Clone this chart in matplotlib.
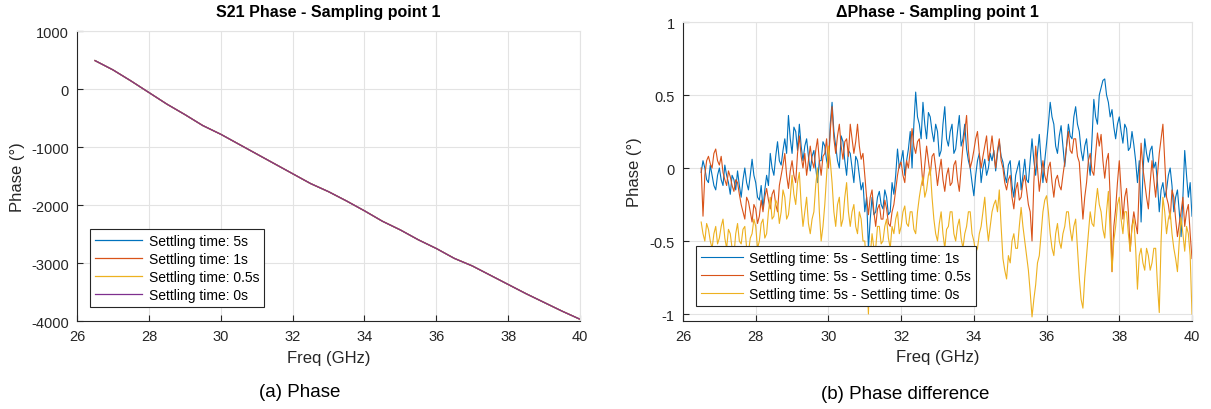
import numpy as np
import matplotlib
matplotlib.use("Agg")
import matplotlib.pyplot as plt

plt.rcParams["font.family"] = ["Liberation Sans", "DejaVu Sans"]
plt.rcParams["axes.unicode_minus"] = False

# left panel: unwrapped S21 phase (all four settling times overlap)
phase_freq = [26.5, 27.0, 27.5, 28.0, 28.5, 29.0, 29.5, 30.0, 30.5, 31.0,
              31.5, 32.0, 32.5, 33.0, 33.5, 34.0, 34.5, 35.0, 35.5, 36.0,
              36.5, 37.0, 37.5, 38.0, 38.5, 39.0, 39.5, 40.0]
phase_deg = [490, 330, 140, -60, -260, -440, -630, -780, -950, -1120,
             -1290, -1460, -1630, -1770, -1930, -2100, -2280, -2430, -2600, -2750,
             -2920, -3050, -3210, -3370, -3530, -3680, -3830, -3970]
phase_labels = ["Settling time: 5s", "Settling time: 1s",
                "Settling time: 0.5s", "Settling time: 0s"]

# right panel: phase difference, one value every 0.05 GHz from 26.5 to 40
diff_freq = np.arange(530, 801) / 20
diff_5s_1s = [
    -0.03, 0.05, 0.0, -0.08, -0.1, 0.02, -0.05, -0.12, -0.15, -0.05, 0.0, -0.08, -0.12, 0.02, -0.05, -0.1, -0.18, -0.05, -0.08, -0.15,
    -0.02, -0.12, -0.2, -0.08, 0.0, -0.1, -0.15, -0.05, 0.06, -0.05, -0.1, -0.2, -0.22, -0.12, -0.28, -0.15, -0.05, -0.12, 0.1, 0.0,
    -0.05, 0.08, 0.18, 0.05, 0.02, 0.12, 0.2, 0.1, 0.36, 0.2, 0.1, 0.28, 0.25, 0.12, 0.3, 0.15, 0.05, 0.15, 0.2, 0.08,
    -0.02, 0.08, 0.12, 0.0, -0.1, 0.05, 0.05, 0.18, 0.15, 0.05, 0.0, 0.3, 0.45, 0.25, 0.15, 0.05, 0.0, 0.22, 0.18, 0.05,
    -0.05, 0.12, 0.1, 0.0, -0.1, 0.08, 0.05, -0.05, -0.15, -0.1, -0.3, -0.2, -0.55, -0.35, -0.2, -0.32, -0.3, -0.2, -0.16, -0.25,
    -0.28, -0.15, -0.2, -0.32, -0.3, -0.1, -0.18, -0.05, 0.13, 0.0, 0.05, 0.12, -0.05, 0.05, 0.13, 0.25, 0.0, 0.3, 0.52, 0.35,
    0.3, 0.2, 0.45, 0.3, 0.2, 0.38, 0.35, 0.25, 0.18, 0.3, 0.25, 0.08, 0.12, 0.3, 0.42, 0.2, 0.15, 0.25, 0.3, 0.1,
    0.13, 0.25, 0.36, 0.15, 0.2, 0.3, 0.13, 0.05, 0.0, -0.1, -0.19, -0.05, 0.05, 0.1, -0.1, 0.0, 0.06, -0.05, 0.0, 0.1,
    0.05, 0.12, -0.02, 0.1, 0.18, 0.08, 0.04, -0.05, -0.1, 0.02, 0.05, -0.12, -0.2, -0.05, 0.0, 0.05, -0.15, -0.05, 0.06, -0.08,
    -0.1, 0.05, 0.2, 0.05, -0.05, 0.1, 0.23, 0.05, -0.1, 0.05, 0.17, 0.3, 0.45, 0.35, 0.3, 0.15, 0.1, 0.22, 0.29, 0.15,
    0.01, 0.15, 0.3, 0.22, 0.2, 0.35, 0.42, 0.3, 0.25, 0.12, 0.05, 0.15, 0.2, 0.05, -0.05, 0.2, 0.47, 0.35, 0.3, 0.5,
    0.55, 0.6, 0.61, 0.5, 0.45, 0.35, 0.4, 0.28, 0.2, 0.3, 0.35, 0.25, 0.17, 0.3, 0.27, 0.12, 0.14, 0.25, 0.16, 0.05,
    -0.1, 0.05, -0.37, -0.05, 0.2, 0.1, 0.04, 0.12, 0.15, 0.0, 0.04, -0.1, -0.3, -0.15, -0.1, -0.2, -0.15, -0.05, 0.0, -0.12,
    -0.3, -0.2, -0.15, -0.3, -0.47, -0.2, 0.12, -0.05, -0.2, -0.1, -0.33]
diff_5s_05s = [
    0.0, -0.33, -0.05, 0.05, 0.08, 0.03, 0.0, 0.1, 0.13, 0.05, 0.02, 0.08, -0.03, -0.08, -0.12, -0.02, -0.06, -0.12, -0.16, -0.08,
    -0.1, -0.18, -0.25, -0.3, -0.35, -0.2, -0.23, -0.3, -0.37, -0.25, -0.28, -0.38, -0.33, -0.22, -0.3, -0.2, -0.14, -0.22, -0.28, -0.18,
    -0.15, -0.25, -0.3, -0.12, -0.05, 0.02, 0.1, -0.05, -0.14, -0.02, 0.05, -0.05, -0.1, 0.1, 0.22, 0.08, 0.0, 0.1, -0.05, 0.05,
    0.15, 0.05, 0.0, 0.12, 0.2, 0.05, -0.05, 0.08, 0.1, 0.2, 0.0, 0.25, 0.42, 0.2, 0.1, 0.22, 0.3, 0.15, 0.06, 0.18,
    0.2, 0.08, 0.3, 0.2, 0.1, 0.18, 0.3, 0.15, 0.06, 0.1, -0.05, -0.2, -0.32, -0.2, -0.15, -0.3, -0.4, -0.28, -0.25, -0.35,
    -0.35, -0.22, -0.28, -0.38, -0.4, -0.3, -0.25, -0.15, -0.05, 0.02, 0.04, -0.05, -0.1, 0.05, 0.0, 0.12, 0.27, 0.15, 0.1, 0.18,
    0.2, 0.05, -0.12, 0.02, 0.15, 0.05, -0.05, 0.08, 0.1, 0.0, -0.12, -0.02, 0.06, -0.08, -0.16, -0.05, 0.0, -0.12, -0.1, 0.02,
    0.05, -0.08, -0.16, 0.0, 0.15, 0.25, 0.36, 0.12, 0.0, 0.05, 0.12, 0.2, 0.25, 0.1, 0.0, 0.08, 0.15, 0.22, 0.05, 0.12,
    0.22, 0.1, 0.0, 0.12, 0.2, 0.05, 0.0, -0.1, -0.15, -0.08, -0.05, -0.2, -0.28, -0.15, -0.1, -0.22, -0.2, -0.1, -0.05, -0.15,
    -0.25, -0.3, -0.5, -0.1, 0.15, 0.0, -0.16, -0.05, 0.05, -0.05, -0.1, 0.0, 0.04, -0.1, -0.2, -0.08, -0.05, -0.12, -0.15, -0.05,
    0.04, 0.15, 0.25, 0.12, 0.1, 0.2, 0.2, 0.08, 0.04, -0.15, -0.35, -0.2, -0.1, 0.05, 0.1, -0.02, -0.05, 0.1, 0.24, 0.15,
    0.23, 0.05, -0.07, 0.05, 0.1, -0.2, -0.71, -0.4, -0.28, -0.1, 0.05, -0.15, -0.35, -0.2, -0.14, -0.3, -0.57, -0.4, -0.3, -0.38,
    -0.45, -0.1, 0.17, 0.0, -0.1, -0.2, -0.28, -0.1, 0.05, -0.08, -0.2, -0.05, 0.1, 0.2, 0.3, 0.05, -0.2, -0.25, -0.35, -0.15,
    -0.2, -0.35, -0.47, -0.38, -0.3, -0.2, -0.4, -0.3, -0.25, -0.45, -0.62]
diff_5s_0s = [
    -0.37, -0.45, -0.5, -0.38, -0.42, -0.5, -0.55, -0.45, -0.4, -0.52, -0.48, -0.4, -0.35, -0.48, -0.55, -0.42, -0.45, -0.55, -0.6, -0.45,
    -0.38, -0.5, -0.52, -0.42, -0.4, -0.55, -0.58, -0.48, -0.45, -0.35, -0.4, -0.55, -0.5, -0.38, -0.35, -0.48, -0.45, -0.3, -0.2, -0.35,
    -0.33, -0.22, -0.25, -0.38, -0.3, -0.15, -0.2, -0.35, -0.32, -0.2, -0.05, -0.18, -0.25, -0.1, -0.03, -0.25, -0.4, -0.3, -0.2, -0.38,
    -0.45, -0.35, -0.3, -0.12, 0.0, -0.3, -0.5, -0.4, -0.25, -0.05, 0.15, 0.05, -0.1, -0.3, -0.4, -0.25, -0.2, -0.4, -0.35, -0.2,
    -0.1, -0.3, -0.4, -0.3, -0.25, -0.4, -0.45, -0.3, -0.35, -0.5, -0.5, -0.7, -1.0, -0.6, -0.45, -0.55, -0.55, -0.4, -0.4, -0.52,
    -0.5, -0.4, -0.35, -0.48, -0.55, -0.4, -0.45, -0.35, -0.3, -0.45, -0.4, -0.3, -0.26, -0.38, -0.4, -0.3, -0.3, -0.42, -0.45, -0.3,
    -0.2, -0.12, -0.06, -0.2, -0.15, -0.05, 0.0, -0.2, -0.35, -0.45, -0.5, -0.38, -0.3, -0.45, -0.55, -0.42, -0.4, -0.3, -0.3, -0.45,
    -0.5, -0.4, -0.35, -0.48, -0.55, -0.45, -0.4, -0.3, -0.3, -0.45, -0.5, -0.58, -0.55, -0.45, -0.4, -0.3, -0.2, -0.38, -0.5, -0.4,
    -0.3, -0.25, -0.22, -0.3, -0.15, -0.4, -0.62, -0.7, -0.76, -0.6, -0.65, -0.5, -0.45, -0.55, -0.55, -0.4, -0.27, -0.4, -0.5, -0.6,
    -0.7, -0.85, -1.02, -0.9, -0.8, -0.65, -0.6, -0.45, -0.3, -0.22, -0.19, -0.3, -0.45, -0.55, -0.6, -0.45, -0.38, -0.5, -0.55, -0.45,
    -0.4, -0.3, -0.3, -0.42, -0.5, -0.4, -0.35, -0.55, -0.75, -0.9, -0.96, -0.75, -0.6, -0.45, -0.3, -0.38, -0.4, -0.25, -0.14, -0.25,
    -0.3, -0.42, -0.48, -0.3, -0.16, -0.45, -0.71, -0.5, -0.4, -0.25, -0.2, -0.35, -0.45, -0.3, -0.3, -0.45, -0.57, -0.4, -0.35, -0.55,
    -0.83, -0.6, -0.55, -0.65, -0.7, -0.55, -0.6, -0.7, -0.65, -0.55, -0.55, -0.8, -0.99, -0.5, -0.2, -0.3, -0.45, -0.35, -0.3, -0.45,
    -0.55, -0.62, -0.71, -0.5, -0.34, -0.45, -0.57, -0.4, -0.45, -0.6, -1.0]
diff_labels = ["Settling time: 5s - Settling time: 1s",
               "Settling time: 5s - Settling time: 0.5s",
               "Settling time: 5s - Settling time: 0s"]

colors = ["#0072BD", "#D95319", "#EDB120", "#7E2F8E"]
dark = "#262626"


def matlab_style(ax):
    ax.grid(True, color="#e3e3e3", linewidth=0.8)
    ax.set_axisbelow(True)
    for side in ["left", "bottom"]:
        ax.spines[side].set_color(dark)
        ax.spines[side].set_linewidth(0.8)
    for side in ["top", "right"]:
        ax.spines[side].set_color("#e3e3e3")
        ax.spines[side].set_linewidth(0.8)
    ax.tick_params(direction="in", length=4, width=0.8, colors=dark,
                   labelsize=10.5, pad=6)


fig = plt.figure(figsize=(12.11, 4.10), dpi=100)

# (a) phase
ax1 = fig.add_axes([0.0636, 0.2146, 0.4154, 0.7073])
for label, color in zip(phase_labels, colors):
    ax1.plot(phase_freq, phase_deg, color=color, linewidth=0.9, label=label)
ax1.set_xlim(26, 40)
ax1.set_ylim(-4000, 1000)
ax1.set_xticks(range(26, 41, 2))
ax1.set_yticks(range(-4000, 1001, 1000))
matlab_style(ax1)
ax1.set_xlabel("Freq (GHz)", fontsize=12, color=dark)
ax1.xaxis.set_label_coords(0.5, -0.1)
ax1.set_ylabel("Phase (°)", fontsize=12, color=dark)
ax1.yaxis.set_label_coords(-0.104, 0.5)
leg1 = ax1.legend(loc="lower left", bbox_to_anchor=(0.026, 0.048),
                  borderaxespad=0, fontsize=10, fancybox=False, framealpha=1,
                  edgecolor=dark, handlelength=3.4, labelspacing=0.3,
                  borderpad=0.35, handletextpad=0.5)
leg1.get_frame().set_linewidth(0.8)
fig.text(328 / 1211, 1 - 12 / 410, "S21 Phase - Sampling point 1",
         ha="center", va="center", fontsize=11.5, fontweight="bold")
fig.text(300 / 1211, 1 - 393 / 410, "(a) Phase", ha="center", va="center",
         fontsize=13.5)

# (b) phase difference
ax2 = fig.add_axes([0.564, 0.2146, 0.4203, 0.7293])
for values, label, color in zip([diff_5s_1s, diff_5s_05s, diff_5s_0s],
                                diff_labels, colors):
    ax2.plot(diff_freq, values, color=color, linewidth=0.8, label=label)
ax2.set_xlim(26, 40)
ax2.set_ylim(-1.048, 1)
ax2.set_xticks(range(26, 41, 2))
ax2.set_yticks([-1, -0.5, 0, 0.5, 1])
ax2.set_yticklabels(["-1", "-0.5", "0", "0.5", "1"])
matlab_style(ax2)
ax2.set_xlabel("Freq (GHz)", fontsize=12, color=dark)
ax2.xaxis.set_label_coords(0.5, -0.095)
ax2.set_ylabel("Phase (°)", fontsize=12, color=dark)
ax2.yaxis.set_label_coords(-0.08, 0.5)
leg2 = ax2.legend(loc="lower left", bbox_to_anchor=(0.0255, 0.05),
                  borderaxespad=0, fontsize=10, fancybox=False, framealpha=1,
                  edgecolor=dark, handlelength=3.0, labelspacing=0.3,
                  borderpad=0.35, handletextpad=0.5)
leg2.get_frame().set_linewidth(0.8)
fig.text(937 / 1211, 1 - 12 / 410, "ΔPhase - Sampling point 1",
         ha="center", va="center", fontsize=11.5, fontweight="bold")
fig.text(905 / 1211, 1 - 395 / 410, "(b) Phase difference", ha="center",
         va="center", fontsize=13.5)

fig.savefig("out.png", dpi=100)
